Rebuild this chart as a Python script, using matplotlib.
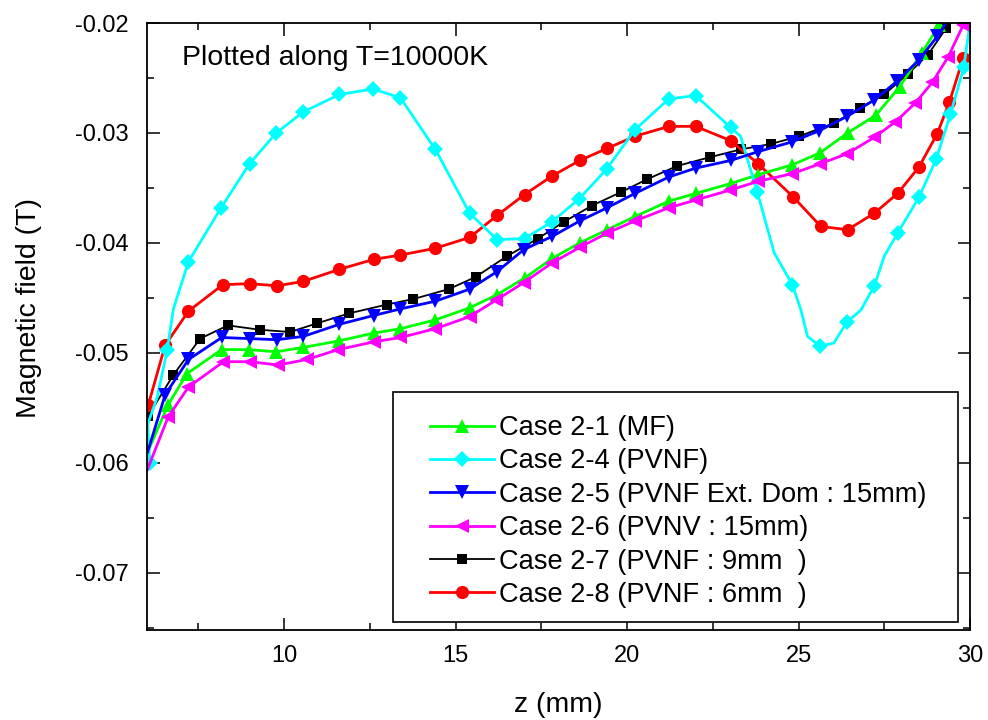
import numpy as np
import matplotlib
matplotlib.use('Agg')
import matplotlib.pyplot as plt
from matplotlib.patches import Rectangle
from matplotlib.ticker import MultipleLocator, FormatStrFormatter

plt.rcParams['font.family'] = ['Liberation Sans', 'DejaVu Sans']

# data: z (mm) and magnetic field (T)
z_21 = [6.05, 6.62, 7.16, 8.18, 8.96, 9.77, 10.56, 11.61, 12.61, 13.39, 14.41, 15.41, 16.21,
        17.01, 17.82, 18.62, 19.42, 20.23, 21.22, 22.0, 23.02, 23.82, 24.82, 25.63, 26.43,
        27.25, 27.95, 28.6, 29.1]
b_21 = [-0.0588, -0.0547, -0.0519, -0.0497, -0.0497, -0.0499, -0.0495, -0.0489, -0.0482,
        -0.0478, -0.0470, -0.0459, -0.0447, -0.0432, -0.0414, -0.0400, -0.0388, -0.0376,
        -0.0362, -0.0355, -0.0346, -0.0338, -0.0329, -0.0318, -0.0300, -0.0284, -0.0258,
        -0.0227, -0.0202]
mk_21 = list(range(1, len(z_21)))

z_24 = [6.08, 6.02, 6.30, 6.59, 6.77, 7.21, 8.16, 8.99, 9.77, 10.55, 11.61, 12.59, 13.39,
        14.41, 15.41, 16.21, 17.01, 17.8, 18.6, 19.4, 20.23, 21.22, 22.0, 23.02, 23.31,
        23.8, 24.29, 24.82, 25.07, 25.26, 25.63, 26.03, 26.41, 26.82, 27.21, 27.5, 27.89,
        28.52, 29.01, 29.43, 29.82, 30.0]
b_24 = [-0.0600, -0.0565, -0.0540, -0.0497, -0.0460, -0.0417, -0.0368, -0.0328, -0.0300,
        -0.0281, -0.0265, -0.0260, -0.0268, -0.0315, -0.0373, -0.0397, -0.0396, -0.0381,
        -0.0360, -0.0333, -0.0297, -0.0269, -0.0266, -0.0295, -0.0303, -0.0354, -0.0409,
        -0.0438, -0.0461, -0.0485, -0.0494, -0.0491, -0.0472, -0.0461, -0.0439, -0.0412,
        -0.0391, -0.0358, -0.0324, -0.0283, -0.0240, -0.0200]
mk_24 = [0, 3, 5, 6, 7, 8, 9, 10, 11, 12, 13, 14, 15, 16, 17, 18, 19, 20, 21, 22, 23, 25,
         27, 30, 32, 34, 36, 37, 38, 39, 40]

z_25 = [6.02, 6.53, 7.21, 8.18, 8.99, 9.79, 10.56, 11.61, 12.61, 13.39, 14.41, 15.41, 16.21,
        16.99, 17.82, 18.62, 19.42, 20.23, 21.22, 22.0, 23.02, 23.82, 24.82, 25.6, 26.41,
        27.21, 27.87, 28.5, 29.05, 29.3]
b_25 = [-0.0590, -0.0538, -0.0506, -0.0486, -0.0487, -0.0488, -0.0485, -0.0474, -0.0466,
        -0.0460, -0.0453, -0.0442, -0.0426, -0.0406, -0.0394, -0.0380, -0.0368, -0.0355,
        -0.0340, -0.0332, -0.0325, -0.0317, -0.0308, -0.0298, -0.0285, -0.0270, -0.0253,
        -0.0234, -0.0212, -0.0200]
mk_25 = list(range(1, len(z_25) - 1))

z_26 = [6.0, 6.62, 7.21, 8.23, 9.0, 9.83, 10.66, 11.58, 12.61, 13.39, 14.41, 15.41, 16.18,
        16.99, 17.82, 18.62, 19.42, 20.23, 21.22, 22.0, 23.0, 23.82, 24.82, 25.63, 26.41,
        27.21, 27.82, 28.4, 28.9, 29.36, 29.8]
b_26 = [-0.0607, -0.0558, -0.0531, -0.0508, -0.0508, -0.0511, -0.0506, -0.0497, -0.0490,
        -0.0486, -0.0478, -0.0467, -0.0452, -0.0436, -0.0418, -0.0404, -0.0391, -0.0380,
        -0.0368, -0.0361, -0.0352, -0.0344, -0.0337, -0.0328, -0.0319, -0.0304, -0.0290,
        -0.0273, -0.0254, -0.0231, -0.0202]
mk_26 = list(range(1, len(z_26)))

z_27 = [6.04, 6.77, 7.55, 8.36, 9.3, 10.17, 10.97, 11.9, 13.0, 13.77, 14.8, 15.58, 16.5,
        17.4, 18.15, 18.98, 19.81, 20.59, 21.46, 22.42, 23.31, 24.19, 25.02, 26.04, 26.8,
        27.5, 28.2, 28.77, 29.3]
b_27 = [-0.0557, -0.0520, -0.0487, -0.0475, -0.0479, -0.0481, -0.0473, -0.0464, -0.0456,
        -0.0451, -0.0442, -0.0431, -0.0412, -0.0396, -0.0381, -0.0366, -0.0354, -0.0342,
        -0.0330, -0.0322, -0.0315, -0.0310, -0.0303, -0.0291, -0.0277, -0.0265, -0.0246,
        -0.0229, -0.0205]
mk_27 = list(range(len(z_27)))

z_28 = [6.04, 6.53, 7.21, 8.21, 8.99, 9.79, 10.56, 11.61, 12.61, 13.39, 14.39, 15.41, 16.21,
        17.01, 17.82, 18.62, 19.42, 20.23, 21.22, 22.0, 23.02, 23.82, 24.84, 25.65, 26.43,
        27.21, 27.89, 28.51, 29.04, 29.4, 29.8, 30.0]
b_28 = [-0.0547, -0.0493, -0.0462, -0.0438, -0.0437, -0.0439, -0.0435, -0.0424, -0.0415,
        -0.0411, -0.0405, -0.0395, -0.0375, -0.0356, -0.0339, -0.0325, -0.0314, -0.0303,
        -0.0294, -0.0294, -0.0307, -0.0328, -0.0358, -0.0385, -0.0388, -0.0373, -0.0355,
        -0.0331, -0.0301, -0.0272, -0.0232, -0.0229]
mk_28 = list(range(len(z_28) - 1))

labels = ['Case 2-1 (MF)', 'Case 2-4 (PVNF)', 'Case 2-5 (PVNF Ext. Dom : 15mm)',
          'Case 2-6 (PVNV : 15mm)', 'Case 2-7 (PVNF : 9mm  )', 'Case 2-8 (PVNF : 6mm  )']

# figure
fig = plt.figure(figsize=(9.88, 7.2), dpi=100)
ax = fig.add_axes([147 / 988, 1 - 630 / 720, 823 / 988, 607 / 720])

series = [
    (z_21, b_21, mk_21, '#00ff00', '^', 10, 2.0, 2.2),
    (z_24, b_24, mk_24, '#00ffff', 'D', 8, 2.0, 2.3),
    (z_25, b_25, mk_25, '#0000ff', 'v', 10, 2.0, 2.4),
    (z_26, b_26, mk_26, '#ff00ff', '<', 10, 2.0, 2.5),
    (z_27, b_27, mk_27, '#000000', 's', 7.5, 1.3, 2.1),
    (z_28, b_28, mk_28, '#ff0000', 'o', 9.5, 2.0, 2.15),
]
for (z, b, mk, c, m, ms, lw, zo), lab in zip(series, labels):
    ax.plot(z, b, color=c, marker=m, markersize=ms, linewidth=lw, markevery=mk,
            markeredgewidth=0, label=lab, zorder=zo)

ax.set_xlim(6, 30)
ax.set_ylim(-0.0752, -0.02)
ax.xaxis.set_major_locator(MultipleLocator(5))
ax.xaxis.set_minor_locator(MultipleLocator(2.5))
ax.yaxis.set_major_locator(MultipleLocator(0.01))
ax.yaxis.set_minor_locator(MultipleLocator(0.005))
ax.yaxis.set_major_formatter(FormatStrFormatter('%.2f'))
ax.tick_params(which='both', direction='in', top=True, right=True, width=1.1, labelsize=17)
ax.tick_params(which='major', length=9)
ax.tick_params(which='minor', length=4.8)
ax.tick_params(axis='x', pad=11)
ax.tick_params(axis='y', pad=13)
for s in ax.spines.values():
    s.set_linewidth(1.3)

ax.set_xlabel('z (mm)', fontsize=20.5, labelpad=18)
ax.set_ylabel('Magnetic field (T)', fontsize=20.5)
ax.yaxis.set_label_coords(-0.128, 0.531)

ax.text(0.042, 0.931, 'Plotted along T=10000K', transform=ax.transAxes,
        fontsize=20.5, va='baseline', ha='left')

# legend with its own frame
ax.add_patch(Rectangle((0.2993, 0.0127), 0.6864, 0.3789, transform=ax.transAxes,
                       facecolor='white', edgecolor='black', linewidth=1.2, zorder=5))
leg = ax.legend(loc='upper left', bbox_to_anchor=(0.3439, 0.354), frameon=False,
                fontsize=19.6, borderpad=0, borderaxespad=0, handlelength=2.35,
                handletextpad=0.2, labelspacing=0.27)
leg.set_zorder(6)

fig.savefig('out.png', dpi=100)
